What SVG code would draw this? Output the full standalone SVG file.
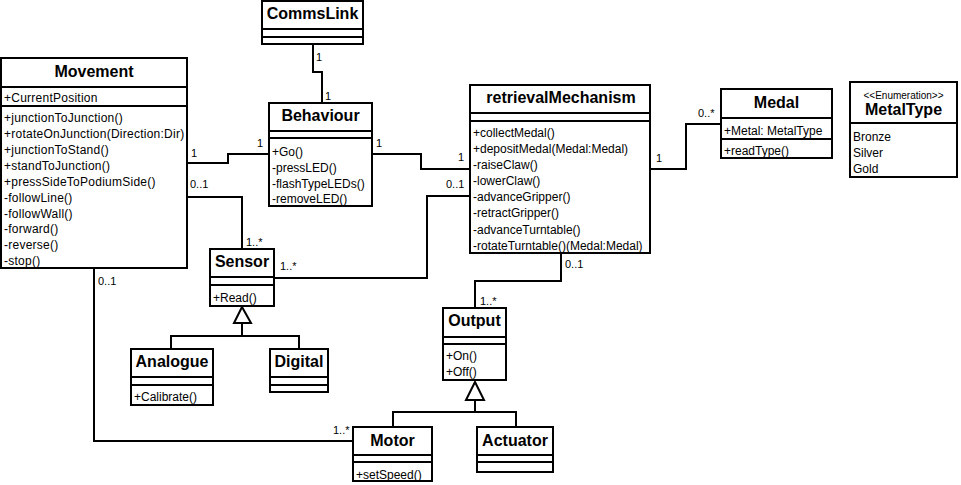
<svg xmlns="http://www.w3.org/2000/svg" width="961" height="485" viewBox="0 0 961 485">
  <style>
    .box { fill: #fff; stroke: #000; stroke-width: 2; }
    .sep { stroke: #000; stroke-width: 2; }
    .edge { fill: none; stroke: #000; stroke-width: 2; }
    .gen { fill: #fff; stroke: #000; stroke-width: 2; }
    .title { font-family: "Liberation Sans", Arial, sans-serif; font-weight: bold; font-size: 16px; text-anchor: middle; fill: #000; }
    .stereo { font-family: "Liberation Sans", Arial, sans-serif; font-size: 10px; text-anchor: middle; fill: #000; }
    .mem { font-family: "Liberation Sans", Arial, sans-serif; font-size: 12px; fill: #000; }
    .wide { letter-spacing: 0.25px; }
    .lbl { font-family: "Liberation Sans", Arial, sans-serif; font-size: 11px; fill: #000; }
  </style>
  <rect width="961" height="485" fill="#fff"/>

  <!-- associations and generalizations -->
  <g id="connectors">
    <!-- CommsLink - Behaviour -->
    <polyline class="edge" points="313,44 313,72 322,72 322,103"/>
    <!-- Movement - Behaviour -->
    <polyline class="edge" points="187,163 228,163 228,154 269,154"/>
    <!-- Movement - Sensor -->
    <polyline class="edge" points="187,197 242,197 242,249"/>
    <!-- Behaviour - retrievalMechanism -->
    <polyline class="edge" points="372,154 421,154 421,169 470,169"/>
    <!-- Sensor - retrievalMechanism -->
    <polyline class="edge" points="274,278 427,278 427,196 470,196"/>
    <!-- retrievalMechanism - Medal -->
    <polyline class="edge" points="650,169 686,169 686,124 721,124"/>
    <!-- retrievalMechanism - Output -->
    <polyline class="edge" points="561,253 561,281 475,281 475,308"/>
    <!-- Movement - Motor -->
    <polyline class="edge" points="94,268 94,441 353,441"/>
    <!-- Sensor generalization -->
    <polyline class="edge" points="171,349 171,336 299,336 299,349"/>
    <line class="edge" x1="242" y1="323" x2="242" y2="336"/>
    <polygon class="gen" points="242,307 234,323 251,323"/>
    <!-- Output generalization -->
    <polyline class="edge" points="393,427 393,412 516,412 516,427"/>
    <line class="edge" x1="475" y1="400" x2="475" y2="412"/>
    <polygon class="gen" points="475,382 466,400 484,400"/>

    <!-- multiplicities -->
    <text class="lbl" x="316" y="61">1</text>
    <text class="lbl" x="325" y="100">1</text>
    <text class="lbl" x="191" y="157">1</text>
    <text class="lbl" x="257" y="147">1</text>
    <text class="lbl" x="190" y="188">0..1</text>
    <text class="lbl" x="246" y="246">1..*</text>
    <text class="lbl" x="376" y="147">1</text>
    <text class="lbl" x="458" y="161">1</text>
    <text class="lbl" x="446" y="188">0..1</text>
    <text class="lbl" x="280" y="270">1..*</text>
    <text class="lbl" x="656" y="162">1</text>
    <text class="lbl" x="698" y="117">0..*</text>
    <text class="lbl" x="565" y="268">0..1</text>
    <text class="lbl" x="480" y="305">1..*</text>
    <text class="lbl" x="98" y="285">0..1</text>
    <text class="lbl" x="333" y="434">1..*</text>
  </g>

  <g id="CommsLink">
    <rect class="box" x="262" y="1" width="101" height="43"/>
    <line class="sep" x1="262" y1="29" x2="363" y2="29"/>
    <line class="sep" x1="262" y1="37" x2="363" y2="37"/>
    <text class="title" x="312.5" y="19">CommsLink</text>
  </g>

  <g id="Movement">
    <rect class="box" x="1" y="58" width="186" height="210"/>
    <line class="sep" x1="1" y1="87" x2="187" y2="87"/>
    <line class="sep" x1="1" y1="106" x2="187" y2="106"/>
    <text class="title" x="94" y="77">Movement</text>
    <g class="mem wide">
      <text x="4" y="102">+CurrentPosition</text>
      <text x="4" y="122">+junctionToJunction()</text>
      <text x="4" y="138">+rotateOnJunction(Direction:Dir)</text>
      <text x="4" y="154">+junctionToStand()</text>
      <text x="4" y="170">+standToJunction()</text>
      <text x="4" y="186">+pressSideToPodiumSide()</text>
      <text x="4" y="202">-followLine()</text>
      <text x="4" y="218">-followWall()</text>
      <text x="4" y="233">-forward()</text>
      <text x="4" y="249">-reverse()</text>
      <text x="4" y="265">-stop()</text>
    </g>
  </g>

  <g id="Behaviour">
    <rect class="box" x="269" y="103" width="103" height="103"/>
    <line class="sep" x1="269" y1="131" x2="372" y2="131"/>
    <line class="sep" x1="269" y1="138" x2="372" y2="138"/>
    <text class="title" x="320.5" y="121">Behaviour</text>
    <g class="mem">
      <text x="272" y="156">+Go()</text>
      <text x="272" y="172">-pressLED()</text>
      <text x="272" y="188">-flashTypeLEDs()</text>
      <text x="272" y="203">-removeLED()</text>
    </g>
  </g>

  <g id="retrievalMechanism">
    <rect class="box" x="470" y="85" width="180" height="168"/>
    <line class="sep" x1="470" y1="113" x2="650" y2="113"/>
    <line class="sep" x1="470" y1="121" x2="650" y2="121"/>
    <text class="title" x="561" y="103">retrievalMechanism</text>
    <g class="mem">
      <text x="473" y="137">+collectMedal()</text>
      <text x="473" y="153">+depositMedal(Medal:Medal)</text>
      <text x="473" y="169">-raiseClaw()</text>
      <text x="473" y="185">-lowerClaw()</text>
      <text x="473" y="201">-advanceGripper()</text>
      <text x="473" y="217">-retractGripper()</text>
      <text x="473" y="234">-advanceTurntable()</text>
      <text x="473" y="250">-rotateTurntable()(Medal:Medal)</text>
    </g>
  </g>

  <g id="Medal">
    <rect class="box" x="721" y="89" width="111" height="69"/>
    <line class="sep" x1="721" y1="118" x2="832" y2="118"/>
    <line class="sep" x1="721" y1="139" x2="832" y2="139"/>
    <text class="title" x="776.5" y="108">Medal</text>
    <g class="mem">
      <text x="724" y="135">+Metal: MetalType</text>
      <text x="724" y="155">+readType()</text>
    </g>
  </g>

  <g id="MetalType">
    <rect class="box" x="850" y="82" width="107" height="95"/>
    <line class="sep" x1="850" y1="123" x2="957" y2="123"/>
    <text class="stereo" x="903.5" y="99">&lt;&lt;Enumeration&gt;&gt;</text>
    <text class="title" x="903.5" y="115">MetalType</text>
    <g class="mem">
      <text x="853" y="141">Bronze</text>
      <text x="853" y="157">Silver</text>
      <text x="853" y="173">Gold</text>
    </g>
  </g>

  <g id="Sensor">
    <rect class="box" x="210" y="249" width="64" height="57"/>
    <line class="sep" x1="210" y1="277" x2="274" y2="277"/>
    <line class="sep" x1="210" y1="285" x2="274" y2="285"/>
    <text class="title" x="242" y="267">Sensor</text>
    <text class="mem" x="213" y="302">+Read()</text>
  </g>

  <g id="Analogue">
    <rect class="box" x="131" y="349" width="82" height="56"/>
    <line class="sep" x1="131" y1="377" x2="213" y2="377"/>
    <line class="sep" x1="131" y1="385" x2="213" y2="385"/>
    <text class="title" x="172" y="367">Analogue</text>
    <text class="mem" x="134" y="401">+Calibrate()</text>
  </g>

  <g id="Digital">
    <rect class="box" x="270" y="349" width="58" height="43"/>
    <line class="sep" x1="270" y1="377" x2="328" y2="377"/>
    <line class="sep" x1="270" y1="385" x2="328" y2="385"/>
    <text class="title" x="299" y="367">Digital</text>
  </g>

  <g id="Output">
    <rect class="box" x="443" y="308" width="63" height="72"/>
    <line class="sep" x1="443" y1="337" x2="506" y2="337"/>
    <line class="sep" x1="443" y1="344" x2="506" y2="344"/>
    <text class="title" x="474.5" y="326">Output</text>
    <text class="mem" x="446" y="360">+On()</text>
    <text class="mem" x="446" y="376">+Off()</text>
  </g>

  <g id="Motor">
    <rect class="box" x="353" y="427" width="79" height="54"/>
    <line class="sep" x1="353" y1="455" x2="432" y2="455"/>
    <line class="sep" x1="353" y1="462" x2="432" y2="462"/>
    <text class="title" x="392.5" y="446">Motor</text>
    <text class="mem" x="356" y="479">+setSpeed()</text>
  </g>

  <g id="Actuator">
    <rect class="box" x="477" y="427" width="76" height="45"/>
    <line class="sep" x1="477" y1="455" x2="553" y2="455"/>
    <line class="sep" x1="477" y1="462" x2="553" y2="462"/>
    <text class="title" x="515" y="446">Actuator</text>
  </g>
</svg>
